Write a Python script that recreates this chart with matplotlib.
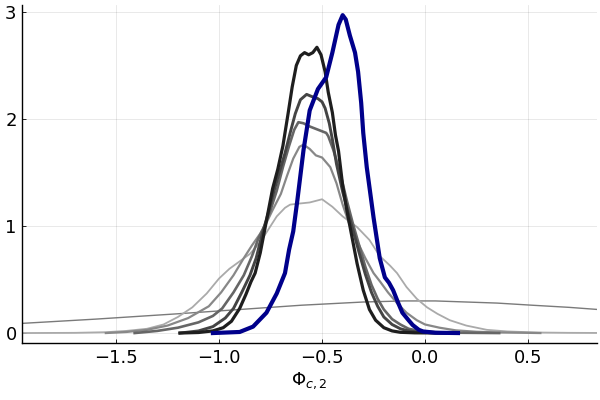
import numpy as np
import matplotlib
matplotlib.use("Agg")
from matplotlib import pyplot as plt

# broad prior curve
prior_x = [-1.96, -1.6, -1.2, -0.9, -0.6, -0.3, -0.1, 0.05, 0.2, 0.35, 0.52, 0.7, 0.84]
prior_y = [0.09, 0.13, 0.18, 0.22, 0.26, 0.29, 0.30, 0.30, 0.29, 0.28, 0.26, 0.24, 0.22]

# lightest density (peak ~1.25)
a_x = [-1.96, -1.70, -1.55, -1.45, -1.35, -1.27, -1.20, -1.13, -1.06, -1.00, -0.95, -0.90, -0.85,
       -0.80, -0.76, -0.72, -0.68, -0.655, -0.61, -0.56, -0.50, -0.45, -0.40, -0.33, -0.27, -0.22,
       -0.17, -0.136, -0.09, -0.04, 0.01, 0.06, 0.12, 0.20, 0.30, 0.40, 0.55, 0.70, 0.84]
a_y = [0.0, 0.002, 0.008, 0.02, 0.04, 0.08, 0.15, 0.24, 0.37, 0.51, 0.60, 0.67, 0.74,
       0.85, 0.97, 1.09, 1.17, 1.20, 1.21, 1.22, 1.25, 1.18, 1.09, 0.99, 0.87, 0.72,
       0.63, 0.56, 0.43, 0.32, 0.24, 0.18, 0.12, 0.07, 0.03, 0.015, 0.005, 0.002, 0.001]

# peak ~1.75
b_x = [-1.55, -1.45, -1.35, -1.25, -1.15, -1.05, -0.99, -0.93, -0.88, -0.84, -0.80, -0.77, -0.74,
       -0.70, -0.67, -0.64, -0.61, -0.59, -0.56, -0.53, -0.50, -0.46, -0.43, -0.40, -0.37, -0.33,
       -0.29, -0.25, -0.218, -0.18, -0.136, -0.09, -0.04, 0.0, 0.07, 0.15, 0.25, 0.35, 0.56]
b_y = [0.0, 0.01, 0.03, 0.07, 0.14, 0.25, 0.38, 0.54, 0.70, 0.82, 0.93, 1.03, 1.15,
       1.30, 1.47, 1.63, 1.74, 1.76, 1.72, 1.66, 1.64, 1.55, 1.40, 1.20, 1.03, 0.86,
       0.70, 0.56, 0.48, 0.38, 0.28, 0.19, 0.12, 0.08, 0.05, 0.025, 0.012, 0.006, 0.0]

# peak ~1.97
c_x = [-1.41, -1.30, -1.20, -1.10, -1.03, -0.985, -0.93, -0.88, -0.84, -0.81, -0.78, -0.75, -0.72,
       -0.69, -0.66, -0.635, -0.615, -0.59, -0.56, -0.52, -0.48, -0.47, -0.445, -0.41, -0.38, -0.35,
       -0.32, -0.29, -0.26, -0.23, -0.20, -0.16, -0.12, -0.08, -0.03, 0.05, 0.15, 0.36]
c_y = [0.0, 0.02, 0.05, 0.10, 0.16, 0.23, 0.38, 0.54, 0.72, 0.88, 1.00, 1.15, 1.33,
       1.55, 1.75, 1.90, 1.97, 1.96, 1.93, 1.90, 1.87, 1.84, 1.71, 1.48, 1.24, 1.02,
       0.82, 0.62, 0.45, 0.32, 0.22, 0.13, 0.08, 0.04, 0.02, 0.008, 0.003, 0.0]

# peak ~2.23
d_x = [-1.19, -1.10, -1.03, -0.97, -0.93, -0.89, -0.85, -0.82, -0.79, -0.76, -0.73, -0.70, -0.68,
       -0.655, -0.63, -0.605, -0.575, -0.55, -0.52, -0.50, -0.485, -0.465, -0.45, -0.43, -0.40,
       -0.37, -0.345, -0.32, -0.29, -0.26, -0.23, -0.20, -0.16, -0.12, -0.08, -0.03, 0.05, 0.15]
d_y = [0.0, 0.02, 0.06, 0.14, 0.23, 0.38, 0.54, 0.70, 0.93, 1.13, 1.35, 1.55, 1.68,
       1.87, 2.05, 2.18, 2.23, 2.21, 2.19, 2.16, 2.10, 1.96, 1.81, 1.58, 1.32,
       1.10, 0.93, 0.75, 0.55, 0.38, 0.25, 0.15, 0.08, 0.04, 0.02, 0.008, 0.002, 0.0]

# darkest, peak ~2.67
e_x = [-1.19, -1.10, -1.03, -0.98, -0.94, -0.90, -0.87, -0.845, -0.825, -0.80, -0.78, -0.76, -0.74,
       -0.715, -0.69, -0.665, -0.645, -0.625, -0.605, -0.585, -0.565, -0.545, -0.525, -0.505, -0.485,
       -0.47, -0.45, -0.435, -0.42, -0.40, -0.38, -0.36, -0.33, -0.30, -0.27, -0.24, -0.20, -0.16,
       -0.12, -0.05, 0.10]
e_y = [0.0, 0.005, 0.02, 0.05, 0.11, 0.23, 0.36, 0.48, 0.56, 0.75, 0.95, 1.15, 1.35,
       1.53, 1.75, 2.05, 2.30, 2.50, 2.59, 2.62, 2.60, 2.62, 2.67, 2.60, 2.44,
       2.25, 2.06, 1.85, 1.70, 1.38, 1.15, 0.95, 0.65, 0.40, 0.22, 0.12, 0.05, 0.02,
       0.007, 0.002, 0.0]

# highlighted blue density
blue_x = [-1.03, -0.90, -0.835, -0.77, -0.72, -0.68, -0.66, -0.64, -0.62, -0.59, -0.56, -0.52,
          -0.48, -0.45, -0.42, -0.40, -0.385, -0.365, -0.34, -0.325, -0.31, -0.30, -0.283, -0.25,
          -0.22, -0.195, -0.175, -0.155, -0.13, -0.11, -0.08, -0.06, -0.03, -0.01, 0.05, 0.16]
blue_y = [0.0, 0.01, 0.06, 0.19, 0.37, 0.56, 0.78, 0.95, 1.24, 1.71, 2.08, 2.28,
          2.39, 2.62, 2.88, 2.97, 2.93, 2.78, 2.62, 2.44, 2.15, 1.87, 1.55, 1.08,
          0.70, 0.52, 0.47, 0.40, 0.28, 0.19, 0.12, 0.075, 0.03, 0.015, 0.003, 0.0]

fig = plt.figure(figsize=(6, 4), dpi=100)
ax = fig.add_axes([0.037, 0.1425, 0.958, 0.845])

ax.plot(prior_x, prior_y, color="#7a7a7a", lw=1.0)
ax.plot(a_x, a_y, color="#aaaaaa", lw=1.3)
ax.plot(b_x, b_y, color="#888888", lw=1.6)
ax.plot(c_x, c_y, color="#666666", lw=1.9)
ax.plot(d_x, d_y, color="#444444", lw=2.1)
ax.plot(e_x, e_y, color="#1e1e1e", lw=2.3)
ax.plot(blue_x, blue_y, color="#00008b", lw=3.0)

ax.set_xlim(-1.956, 0.835)
ax.set_ylim(-0.093, 3.065)
ax.set_xticks([-1.5, -1.0, -0.5, 0.0, 0.5])
ax.set_xticklabels(["\u22121.5", "\u22121.0", "\u22120.5", "0.0", "0.5"])
ax.set_yticks([0, 1, 2, 3])
ax.grid(True, color="#000000", alpha=0.1, lw=0.6)
ax.set_axisbelow(True)
for s in ["top", "right"]:
    ax.spines[s].set_visible(False)
for s in ["left", "bottom"]:
    ax.spines[s].set_linewidth(1.0)
ax.tick_params(direction="in", length=3, width=0.6, labelsize=13, pad=4)
ax.set_xlabel(r"$\Phi_{c,2}$", fontsize=13, labelpad=3)

fig.savefig("out.png", dpi=100)
